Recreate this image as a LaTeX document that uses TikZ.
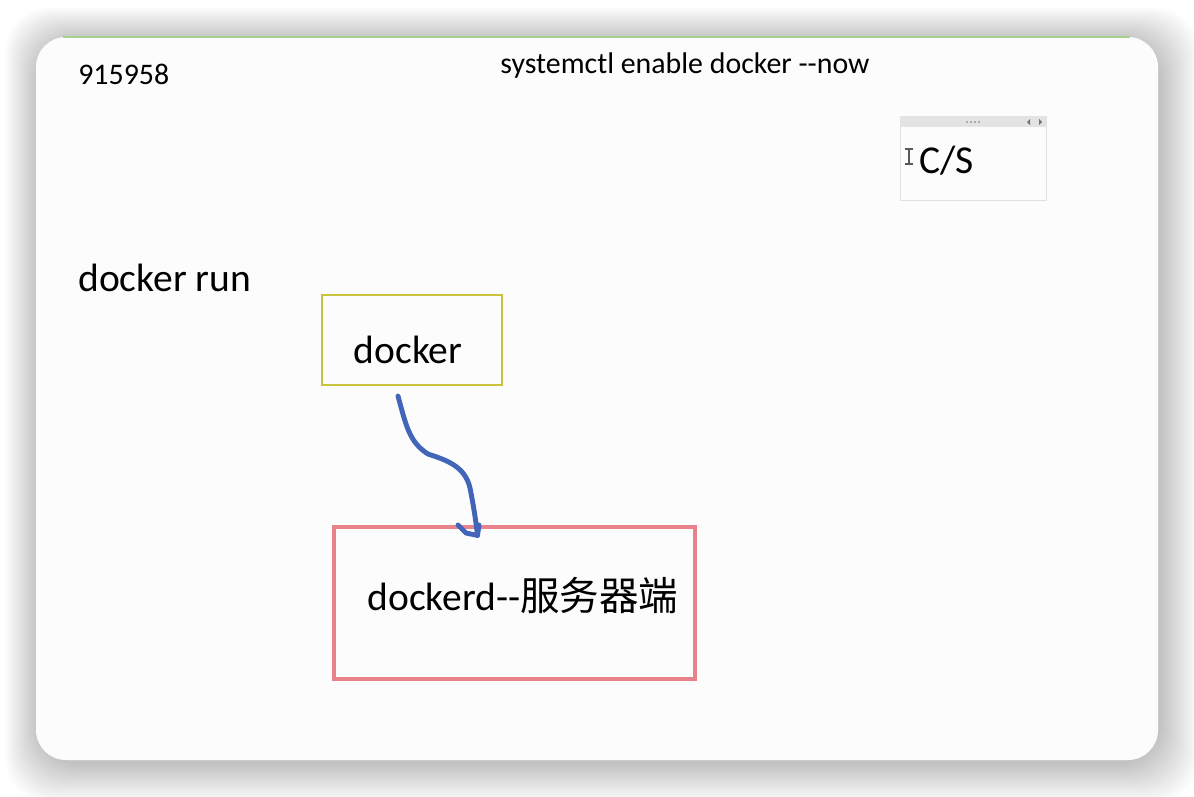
\documentclass[tikz,border=0pt]{standalone}
\usepackage{fontspec}
\setmainfont{Carlito}
\newfontfamily\cjk{Noto Sans CJK SC}
\usetikzlibrary{positioning}
\definecolor{boxyellow}{RGB}{201,195,64}
\definecolor{boxred}{RGB}{232,131,140}
\definecolor{penblue}{RGB}{66,101,186}
\definecolor{topgreen}{RGB}{168,208,141}
\definecolor{bargray}{RGB}{227,227,227}
\tikzset{big/.style={inner sep=0pt, font=\fontsize{22.5}{27}\selectfont}}
\tikzset{small/.style={inner sep=0pt, font=\fontsize{17}{20}\selectfont}}
\tikzset{box/.style={rectangle, inner sep=0pt}}
\tikzset{pen/.style={penblue, line width=2.8pt, line cap=round, line join=round}}

\begin{document}
\begin{tikzpicture}[x=0.02cm, y=-0.02cm]
    \useasboundingbox (0,0) rectangle (1194,796);
    % shadow and card
    \foreach \i in {1,...,30}
        \fill[black, fill opacity=0.006, rounded corners=0.9cm]
            (36-\i*1.1+2,37-\i*1.1+3) rectangle (1158+\i*1.3+2,760+\i*1.3+4);
    \fill[white!99!black, rounded corners=0.6cm] (36,37) rectangle (1158,760);
    \draw[topgreen, line width=1.2pt] (63,37) -- (1130,37);

    \node [small, anchor=base west](code) at (78,84){915958};
    \node [small, anchor=base](cmd) at (685,73){systemctl enable docker -{}-now};
    \node [big, anchor=base west](run) at (78,291){docker run};

    % C/S window
    \node [box, draw=black!12, line width=0.5pt, minimum width=2.92cm, minimum height=1.68cm](cs) at (973,158){};
    \fill[bargray] (cs.north west) rectangle ([yshift=-0.22cm]cs.north east);
    \foreach \k in {0,...,3}
        \fill[black!55] (967+\k*4,122) circle (0.55pt);
    \fill[black!55] (1030,119) -- (1030,125) -- (1027,122) -- cycle;
    \fill[black!55] (1039,119) -- (1039,125) -- (1042,122) -- cycle;
    \draw[black!65, line width=0.8pt] (905,149) -- (913,149) (909,149) -- (909,164) (905,164) -- (913,164);
    \node [big, anchor=base west](cstext) at (919,173){C/S};

    % client and server
    \node [box, draw=boxyellow, line width=1.2pt, minimum width=3.6cm, minimum height=1.8cm](client) at (412,340){};
    \node [big, anchor=base](clienttext) at (408,363){docker};
    \node [box, draw=boxred, line width=1.8pt, minimum width=7.22cm, minimum height=3.04cm](server) at (514.5,603){};
    \node [big, anchor=base](servertext) at (523,610){dockerd-{}-{\cjk 服务器端}};

    \draw[pen] ([shift={(-14,10)}]client.south) .. controls (406,425) and (409,442) .. (428,454)
        .. controls (446,460) and (465,466) .. (470,488)
        .. controls (474,508) and (476,522) .. ([shift={(-37,10)}]server.north);
    \draw[pen] (458,525) -- (466,533) -- ([shift={(-37,10)}]server.north) -- (479,525);
\end{tikzpicture}
\end{document}
